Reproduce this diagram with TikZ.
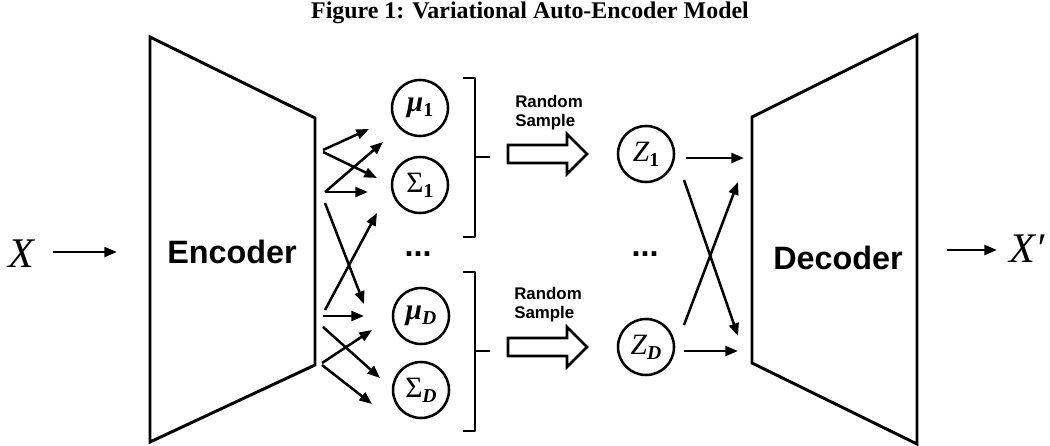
\documentclass[tikz,border=0pt]{standalone}
\usepackage{fontspec}
\setmainfont{Liberation Serif}
\newfontfamily\arialf{Liberation Sans}
\newfontfamily\serifl{Liberation Serif}
\usetikzlibrary{arrows.meta}
\newcommand\subx[1]{\raisebox{-0.35ex}{\fontsize{14}{14}\selectfont\bfseries #1}}
\begin{document}
\begin{tikzpicture}[x=0.025cm,y=-0.025cm,
  shape line/.style={line width=2.1pt, line join=miter},
  conn/.style={line width=1.8pt, -{Triangle[length=9pt,width=7pt]}},
  var/.style={circle, draw, line width=1.8pt, minimum size=56*0.025cm, inner sep=0pt, font=\serifl\fontsize{21}{23}\selectfont},
  blocklabel/.style={font=\arialf\bfseries\fontsize{23}{26}\selectfont},
  samplelabel/.style={font=\arialf\bfseries\fontsize{12}{13.5}\selectfont, align=left},
  dotlabel/.style={font=\arialf\bfseries\fontsize{23}{25}\selectfont},
  iolabel/.style={font=\serifl\itshape\fontsize{30}{32}\selectfont},
  brk/.style={line width=1.8pt, line join=round},
  barrow/.style={line width=1.8pt, line join=miter}]
\useasboundingbox (0,0) rectangle (1050,446);

% title
\node[font=\bfseries\fontsize{17}{20}\selectfont] (title) at (530,13) {Figure 1: Variational Auto-Encoder Model};

% encoder
\draw[shape line] (150,37) -- (315,118) -- (315,365) -- (150,442) -- cycle;
\node[blocklabel] (enc) at (232,252) {Encoder};
% decoder
\draw[shape line] (752,117) -- (917,35) -- (917,444) -- (752,363) -- cycle;
\node[blocklabel] (dec) at (838,258) {Decoder};

% input / output
\node[iolabel] (x) at (21,254) {X};
\coordinate (xs) at (53,252);
\coordinate (xe) at (117,252);
\draw[conn] (xs) -- (xe);
\node[iolabel] (xp) at (1027,249) {X′};
\coordinate (ds) at (947,250);
\coordinate (de) at (997,250);
\draw[conn] (ds) -- (de);

% variables
\node[var] (mu1) at (420,108) {\textbf{\textit{μ}}\subx{1}};
\node[var] (s1) at (420,185) {Σ\subx{1}};
\node[var] (muD) at (421,316) {\textbf{\textit{μ}}\subx{\textit{D}}};
\node[var] (sD) at (421,390) {Σ\subx{\textit{D}}};
\node[var] (z1) at (646,154) {\textit{Z}\subx{1}};
\node[var] (zD) at (646,347) {\textit{Z}\subx{\textit{D}}};

\node[dotlabel] (dots1) at (418,254) {...};
\node[dotlabel] (dots2) at (645,254) {...};

% encoder outputs
\coordinate (a1) at (323,150); \coordinate (a1e) at (369,129);
\coordinate (a2) at (323,152); \coordinate (a2e) at (377,178);
\coordinate (a3) at (325,192); \coordinate (a3e) at (383,142);
\coordinate (a4) at (325,192); \coordinate (a4e) at (368,192);
\coordinate (a5) at (325,203); \coordinate (a5e) at (364,304);
\coordinate (a6) at (325,310); \coordinate (a6e) at (377,213);
\coordinate (a7) at (323,316); \coordinate (a7e) at (364,316);
\coordinate (a8) at (323,327); \coordinate (a8e) at (380,378);
\coordinate (a9) at (322,363); \coordinate (a9e) at (372,330);
\coordinate (a10) at (322,365); \coordinate (a10e) at (372,404);
\foreach \i in {1,...,10} \draw[conn] (a\i) -- (a\i e);

% brackets
\draw[brk] (463,78) -- (475,78) -- (475,237) -- (463,237);
\draw[brk] (475,157) -- (490,157);
\draw[brk] (463,272) -- (475,272) -- (475,431) -- (463,431);
\draw[brk] (475,351) -- (490,351);

% random sample arrows
\node[samplelabel] (rs1) at (549,113) {Random\\Sample};
\node[samplelabel] (rs2) at (548,305) {Random\\Sample};
\draw[barrow] (508,145) -- (567,145) -- (567,134) -- (587,154) -- (567,174) -- (567,163) -- (508,163) -- cycle;
\draw[barrow] (508,338) -- (567,338) -- (567,327) -- (587,347) -- (567,367) -- (567,356) -- (508,356) -- cycle;

% latent to decoder
\coordinate (b1) at (686,158); \coordinate (b1e) at (744,158);
\coordinate (b2) at (684,180); \coordinate (b2e) at (738,336);
\coordinate (b3) at (684,325); \coordinate (b3e) at (738,182);
\coordinate (b4) at (684,351); \coordinate (b4e) at (738,351);
\foreach \i in {1,...,4} \draw[conn] (b\i) -- (b\i e);
\end{tikzpicture}
\end{document}
